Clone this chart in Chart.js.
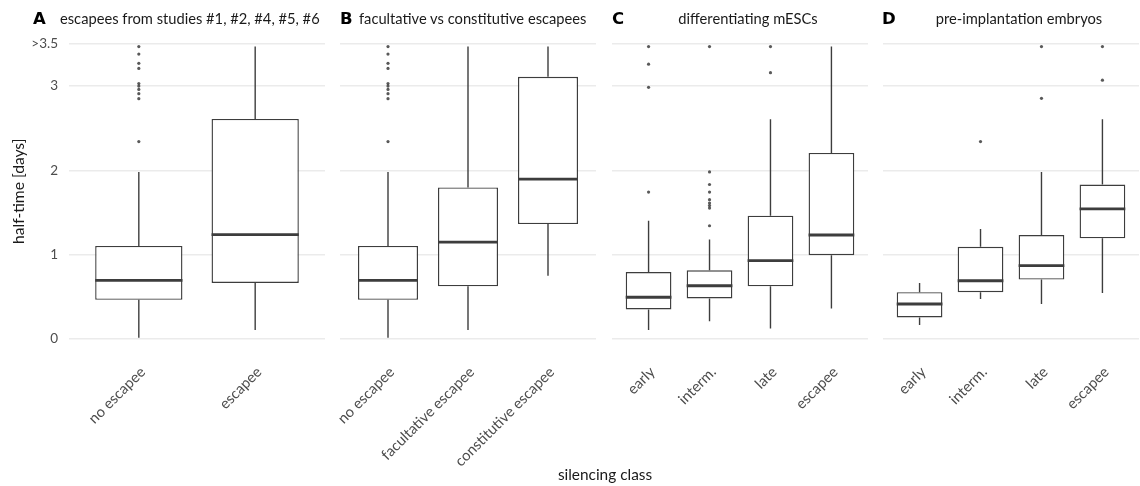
<!DOCTYPE html>
<html><head><meta charset="utf-8">
<script src="https://cdn.jsdelivr.net/npm/chart.js@4.4.0/dist/chart.umd.min.js"></script>
<style>
html,body{margin:0;padding:0;background:#fff;overflow:hidden;width:1140px;height:486px;}
#wrap{position:relative;width:1140px;height:486px;overflow:hidden;}
canvas{position:absolute;top:0;}
.tag{position:absolute;font-family:"DejaVu Sans";font-weight:bold;font-size:16.5px;line-height:20px;top:9px;color:#000;}
.ttl{position:absolute;font-family:Lato;font-size:14.7px;line-height:18px;top:9px;color:#1a1a1a;white-space:nowrap;}
.ctr{transform:translateX(-50%);}
</style></head>
<body>
<div id="wrap">
  <canvas id="cA" width="329" height="486" style="left:0px"></canvas>
  <canvas id="cB" width="270" height="486" style="left:330px"></canvas>
  <canvas id="cC" width="270" height="486" style="left:602px"></canvas>
  <canvas id="cD" width="270" height="486" style="left:873px"></canvas>
  <div class="tag" style="left:33px">A</div>
  <div class="ttl" style="left:60px">escapees from studies #1, #2, #4, #5, #6</div>
  <div class="tag" style="left:340px">B</div>
  <div class="ttl" style="left:359px">facultative vs constitutive escapees</div>
  <div class="tag" style="left:612px">C</div>
  <div class="ttl ctr" style="left:748px">differentiating mESCs</div>
  <div class="tag" style="left:882px">D</div>
  <div class="ttl ctr" style="left:1019px">pre-implantation embryos</div>
  <div class="ttl ctr" style="left:605px;top:465px;font-size:15.4px;">silencing class</div>
</div>
<script>
// ---- data ----
const yTickValues = [0, 1, 2, 3, 3.5];
const yTickLabels = ["0", "1", "2", "3", ">3.5"];

const catsA = ["no escapee", "escapee"];
const loA  = [0.01, 0.10];
const q1A  = [0.46, 0.66];
const medA = [0.69, 1.235];
const q3A  = [1.10, 2.61];
const hiA  = [1.98, 3.47];
const outA = [[2.34, 2.85, 2.91, 2.96, 3.00, 3.03, 3.21, 3.27, 3.38, 3.47], []];

const catsB = ["no escapee", "facultative escapee", "constitutive escapee"];
const loB  = [0.01, 0.10, 0.745];
const q1B  = [0.46, 0.62, 1.36];
const medB = [0.69, 1.145, 1.895];
const q3B  = [1.10, 1.796, 3.11];
const hiB  = [1.98, 3.47, 3.47];
const outB = [[2.34, 2.85, 2.91, 2.96, 3.00, 3.03, 3.21, 3.27, 3.38, 3.47], [], []];

const catsC = ["early", "interm.", "late", "escapee"];
const loC  = [0.10, 0.205, 0.12, 0.355];
const q1C  = [0.345, 0.475, 0.62, 0.99];
const medC = [0.49, 0.627, 0.925, 1.23];
const q3C  = [0.79, 0.81, 1.46, 2.205];
const hiC  = [1.40, 1.175, 2.607, 3.47];
const outC = [[1.74, 2.985, 3.26, 3.47], [1.34, 1.55, 1.58, 1.61, 1.65, 1.74, 1.83, 1.98, 3.47], [3.16, 3.47], []];

const catsD = ["early", "interm.", "late", "escapee"];
const loD  = [0.16, 0.47, 0.41, 0.54];
const q1D  = [0.25, 0.55, 0.70, 1.19];
const medD = [0.41, 0.686, 0.865, 1.54];
const q3D  = [0.55, 1.09, 1.23, 1.83];
const hiD  = [0.66, 1.30, 1.98, 2.607];
const outD = [[], [2.34], [2.855, 3.47], [3.07, 3.47]];

// ---- styling ----
const LINE = '#3d3d3d';
const GRID = '#ebebeb';
const TICKC = '#4d4d4d';
const FONT = 'Lato';
const BOXW = 0.75;        // box width in category units
const Y_MIN = -0.175, Y_MAX = 3.675;
const TOP = 29.3, XAXIS_H = 132.8;

function makePanel(id, cats, lo, q1, med, q3, hi, outs, axisW, showY) {
  const n = cats.length;
  const boxes = cats.map((c, i) => ({x: i + 1, y: [q1[i], q3[i]]}));
  const whisk = [];
  const meds = [];
  const pts = [];
  cats.forEach((c, i) => {
    const x = i + 1;
    whisk.push({x, y: q3[i]}, {x, y: hi[i]}, {x, y: null},
               {x, y: lo[i]}, {x, y: q1[i]}, {x, y: null});
    meds.push({x: x - BOXW / 2, y: med[i]}, {x: x + BOXW / 2, y: med[i]}, {x, y: null});
    outs[i].forEach(v => pts.push({x, y: v}));
  });

  new Chart(document.getElementById(id), {
    type: 'bar',
    data: {
      datasets: [
        {type: 'scatter', data: pts, pointRadius: 1.6, pointBackgroundColor: 'rgba(60,60,60,0.85)',
         pointBorderWidth: 0, order: 0},
        {type: 'line', data: meds, borderColor: LINE, borderWidth: 2.8, pointRadius: 0,
         fill: false, tension: 0, spanGaps: false, order: 1, borderCapStyle: 'butt'},
        {type: 'bar', data: boxes, backgroundColor: '#ffffff', borderColor: LINE, borderWidth: 1.4,
         borderSkipped: false, categoryPercentage: BOXW, barPercentage: 1, order: 2},
        {type: 'line', data: whisk, borderColor: LINE, borderWidth: 1.4, pointRadius: 0,
         fill: false, tension: 0, spanGaps: false, order: 3}
      ]
    },
    options: {
      responsive: false,
      animation: false,
      events: [],
      layout: {padding: {top: TOP, left: 0, right: 0, bottom: 0}},
      plugins: {legend: {display: false}, tooltip: {enabled: false}, title: {display: false}},
      scales: {
        x: {
          type: 'linear', min: 0.4, max: n + 0.6, offset: false,
          grid: {display: false, offset: false},
          border: {display: false},
          afterBuildTicks: s => { s.ticks = cats.map((c, i) => ({value: i + 1})); },
          afterFit: s => { s.height = XAXIS_H; s.paddingLeft = 0; s.paddingRight = 0; },
          ticks: {
            autoSkip: false, minRotation: 45, maxRotation: 45, padding: 2, labelOffset: 4,
            color: TICKC, font: {family: FONT, size: 14.8},
            callback: (v) => cats[Math.round(v) - 1] ?? ''
          }
        },
        y: {
          type: 'linear', min: Y_MIN, max: Y_MAX,
          grid: {color: GRID, lineWidth: 1.4, drawTicks: false},
          border: {display: false},
          afterBuildTicks: s => { s.ticks = yTickValues.map(v => ({value: v})); },
          afterFit: s => { s.width = axisW; s.paddingTop = 0; s.paddingBottom = 0; },
          ticks: {
            display: showY, padding: 11, color: TICKC, font: {family: FONT, size: 13.5},
            callback: (v) => { const k = yTickValues.indexOf(v); return k >= 0 ? yTickLabels[k] : ''; }
          },
          title: {display: showY, text: 'half-time [days]', color: '#1a1a1a',
                  font: {family: FONT, size: 15.6}, padding: {top: 10, bottom: 0}}
        }
      }
    }
  });
}

makePanel('cA', catsA, loA, q1A, medA, q3A, hiA, outA, 69, true);
makePanel('cB', catsB, loB, q1B, medB, q3B, hiB, outB, 10, false);
makePanel('cC', catsC, loC, q1C, medC, q3C, hiC, outC, 10, false);
makePanel('cD', catsD, loD, q1D, medD, q3D, hiD, outD, 10, false);
</script>
</body></html>
